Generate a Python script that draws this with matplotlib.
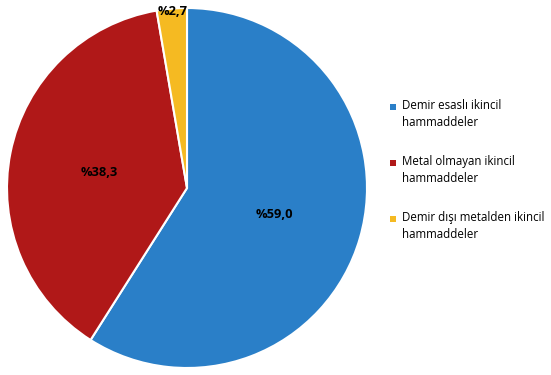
import matplotlib.pyplot as plt

# ==== Data ====
categories = ["Demir esaslı ikincil\nhammaddeler",
              "Metal olmayan ikincil\nhammaddeler",
              "Demir dışı metalden ikincil\nhammaddeler"]
shares = [59.0, 38.3, 2.7]
value_labels = ["%59,0", "%38,3", "%2,7"]
colors = ["#2a7fc8", "#b01818", "#f5ba22"]

plt.rcParams['font.family'] = ['Open Sans', 'DejaVu Sans']

W, H = 551, 375
fig = plt.figure(figsize=(W / 100, H / 100), dpi=100)
ax = fig.add_axes([7 / W, 7 / H, 360 / W, 360 / H])

wedges, _ = ax.pie(shares, colors=colors, startangle=90, counterclock=False,
                   wedgeprops=dict(edgecolor="white", linewidth=1.5))
ax.set_xlim(-1, 1)
ax.set_ylim(-1, 1)
ax.set_aspect("equal")

# label positions (radius fraction, in data units)
label_pos = [(0.483, -0.15), (-0.49, 0.085), (-0.08, 0.983)]
for (x, y), txt in zip(label_pos, value_labels):
    ax.text(x, y, txt, ha="center", va="center", fontsize=9.3,
            fontweight="bold", color="black")

# ==== Legend (drawn by hand, pixel layout) ====
first_line_y = [107, 163, 219]
for c, label, y in zip(colors, categories, first_line_y):
    fig.patches.append(plt.Rectangle(((390) / W, 1 - (y + 3) / H), 6 / W, 6 / H,
                                     transform=fig.transFigure,
                                     facecolor=c, edgecolor="none"))
    fig.text(402 / W, 1 - (y - 8) / H, label, ha="left", va="top",
             fontsize=8.3, linespacing=1.45, color="black")

fig.savefig("out.png", dpi=100)
